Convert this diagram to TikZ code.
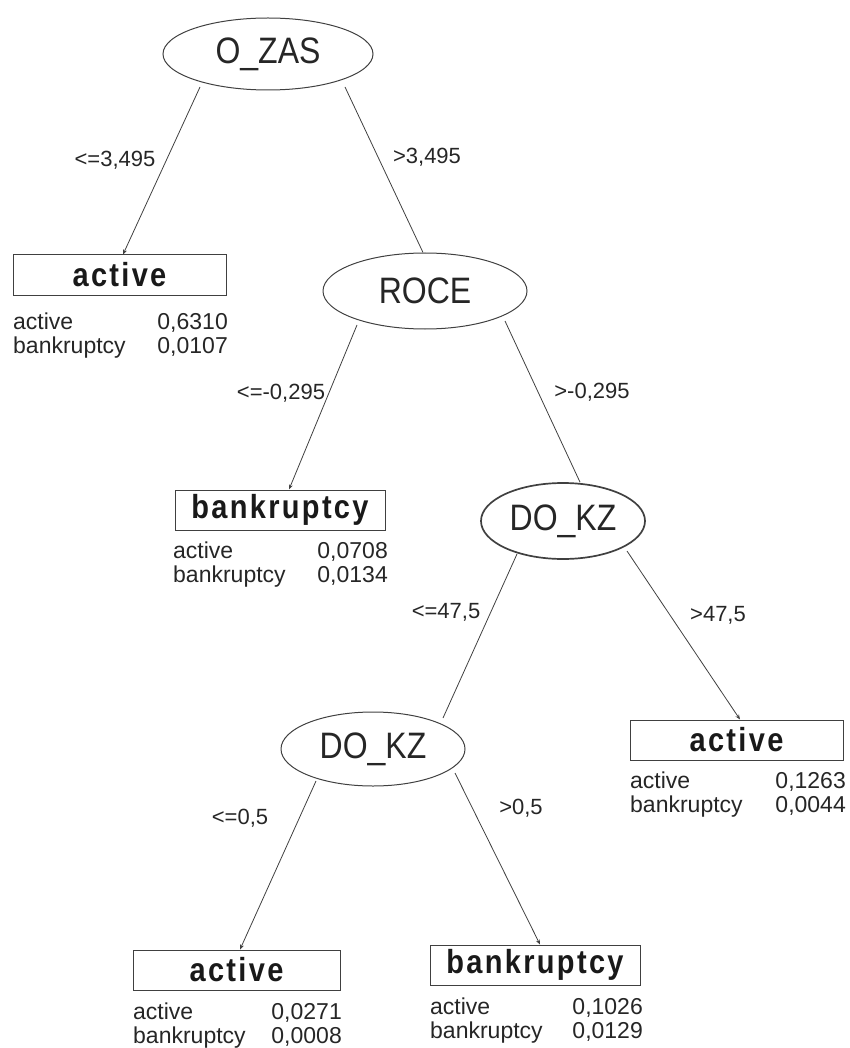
\documentclass[tikz,border=0pt]{standalone}
\usepackage{fontspec}
\usepackage{graphicx}
\setmainfont{Liberation Sans}
\usetikzlibrary{shapes.geometric,calc,arrows.meta}

\newcommand{\tallish}[1]{\scalebox{1}[1.15]{#1}}

\tikzset{
  ink/.style={draw=black!75, line width=1pt},
  split/.style={ink, ellipse, inner sep=0pt, font=\fontsize{32}{36}\selectfont, text=black!85},
  leaf/.style={ink, rectangle, inner sep=0pt, minimum height=40pt,
    font=\fontsize{29}{32}\selectfont\bfseries\addfontfeatures{LetterSpace=8}, text=black!90},
  edgelbl/.style={font=\fontsize{22}{24}\selectfont, text=black!85, inner sep=0pt},
  cell/.style={font=\fontsize{23}{26}\selectfont, text=black!85, inner sep=0pt},
  branch/.style={draw=black!75, line width=0.8pt, -{Stealth[length=5pt,width=4pt]}},
  branchu/.style={draw=black!75, line width=0.8pt},
}

\begin{document}
\begin{tikzpicture}[x=1pt, y=-1pt]
\useasboundingbox (0,0) rectangle (850,1048);

% decision nodes
\node[split, minimum width=210pt, minimum height=72pt] (ozas) at (268,54) {\tallish{O\_ZAS}};
\node[split, minimum width=204pt, minimum height=76pt] (roce) at (425,291) {\tallish{ROCE}};
\node[split, minimum width=164pt, minimum height=76pt, line width=1.7pt] (dokzA) at (563,521) {\tallish{DO\_KZ}};
\node[split, minimum width=184pt, minimum height=74pt] (dokzB) at (373,749) {\tallish{DO\_KZ}};

% leaves
\node[leaf, minimum width=213pt] (leafA) at (119.5,275) {\tallish{active}};
\node[leaf, minimum width=210pt] (leafB) at (280,510) {\tallish{bankruptcy}};
\node[leaf, minimum width=213pt] (leafC) at (736.5,740) {\tallish{active}};
\node[leaf, minimum width=207pt] (leafD) at (236.5,970) {\tallish{active}};
\node[leaf, minimum width=210pt] (leafE) at (535,965) {\tallish{bankruptcy}};

% branches
\draw[branch] ($(ozas.center)+(-68,33)$) -- ([xshift=3.5pt]leafA.north);
\draw[branchu] ($(ozas.center)+(77,33)$) -- ([xshift=-2pt]roce.north);
\draw[branch] ($(roce.center)+(-68,34)$) -- ([xshift=9pt]leafB.north);
\draw[branchu] ($(roce.center)+(80,30)$) -- ([xshift=17pt]dokzA.north);
\draw[branchu] ($(dokzA.center)+(-46,33)$) -- ($(dokzB.center)+(70,-31)$);
\draw[branch] ($(dokzA.center)+(64,30)$) -- ([xshift=3.5pt]leafC.north);
\draw[branch] ($(dokzB.center)+(-57,32)$) -- ([xshift=3.5pt]leafD.north);
\draw[branch] ($(dokzB.center)+(82,24)$) -- ([xshift=5pt]leafE.north);

% split conditions
\node[edgelbl] (cA) at (115,160) {<=3,495};
\node[edgelbl] (cB) at (427,157) {>3,495};
\node[edgelbl] (cC) at (281,393) {<=-0,295};
\node[edgelbl] (cD) at (592,392) {>-0,295};
\node[edgelbl] (cE) at (446,612) {<=47,5};
\node[edgelbl] (cF) at (718,615) {>47,5};
\node[edgelbl] (cG) at (240,818) {<=0,5};
\node[edgelbl] (cH) at (521,808) {>0,5};

% class probabilities under each leaf
\node[cell, anchor=base west] (pA1) at (13,329) {active};
\node[cell, anchor=base east] (vA1) at (228,329) {0,6310};
\node[cell, anchor=base west] (pA2) at (13,353) {bankruptcy};
\node[cell, anchor=base east] (vA2) at (228,353) {0,0107};

\node[cell, anchor=base west] (pB1) at (173,558) {active};
\node[cell, anchor=base east] (vB1) at (388,558) {0,0708};
\node[cell, anchor=base west] (pB2) at (173,582) {bankruptcy};
\node[cell, anchor=base east] (vB2) at (388,582) {0,0134};

\node[cell, anchor=base west] (pC1) at (630,788) {active};
\node[cell, anchor=base east] (vC1) at (846,788) {0,1263};
\node[cell, anchor=base west] (pC2) at (630,812) {bankruptcy};
\node[cell, anchor=base east] (vC2) at (846,812) {0,0044};

\node[cell, anchor=base west] (pD1) at (133,1019) {active};
\node[cell, anchor=base east] (vD1) at (342,1019) {0,0271};
\node[cell, anchor=base west] (pD2) at (133,1043) {bankruptcy};
\node[cell, anchor=base east] (vD2) at (342,1043) {0,0008};

\node[cell, anchor=base west] (pE1) at (430,1014) {active};
\node[cell, anchor=base east] (vE1) at (643,1014) {0,1026};
\node[cell, anchor=base west] (pE2) at (430,1038) {bankruptcy};
\node[cell, anchor=base east] (vE2) at (643,1038) {0,0129};
\end{tikzpicture}
\end{document}
